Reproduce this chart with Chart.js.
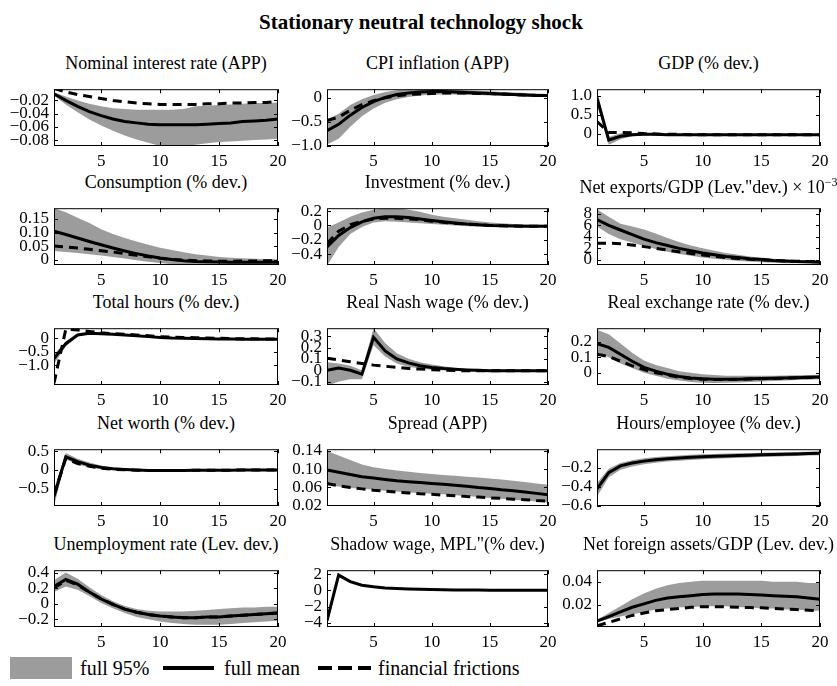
<!DOCTYPE html>
<html>
<head>
<meta charset="utf-8">
<script src="https://cdn.jsdelivr.net/npm/chart.js@4.4.0/dist/chart.umd.min.js"></script>
<style>
  body { margin: 0; background: #fff; width: 837px; height: 686px; position: relative; overflow: hidden;
         font-family: "Liberation Serif", "Times New Roman", serif; color: #000; }
  .main { position: absolute; top: 10px; left: 0; width: 842px; text-align: center; font-weight: bold; font-size: 21px; line-height: 24px; }
  .ptitle { position: absolute; white-space: nowrap; font-size: 18px; line-height: 20px; transform: translateX(-50%); }
  .ptitle sup { font-size: 12px; }
  canvas { position: absolute; }
  .leg { position: absolute; font-size: 20px; line-height: 22px; white-space: nowrap; }
</style>
</head>
<body>
<div class="main">Stationary neutral technology shock</div>

<div style="position:absolute;left:10px;top:657px;width:62px;height:22px;background:#9c9c9c"></div>
<div class="leg" style="left:80px;top:657px">full 95%</div>
<div style="position:absolute;left:163px;top:666px;width:51px;height:4px;background:#000"></div>
<div class="leg" style="left:224px;top:657px">full mean</div>
<svg style="position:absolute;left:318px;top:664px" width="53" height="8"><line x1="0" y1="4" x2="53" y2="4" stroke="#000" stroke-width="4" stroke-dasharray="14 6"/></svg>
<div class="leg" style="left:378px;top:657px">financial frictions</div>

<script>
// horizon (quarters)
const periods = [1,2,3,4,5,6,7,8,9,10,11,12,13,14,15,16,17,18,19,20];
const xTicks = [5, 10, 15, 20];

// Nominal interest rate (APP)
const nirMean = [-0.010,-0.020,-0.029,-0.037,-0.043,-0.048,-0.052,-0.054,-0.056,-0.057,-0.057,-0.057,-0.057,-0.056,-0.055,-0.054,-0.052,-0.051,-0.050,-0.048];
const nirFF   = [-0.002,-0.007,-0.011,-0.014,-0.017,-0.020,-0.022,-0.024,-0.025,-0.026,-0.026,-0.026,-0.026,-0.025,-0.025,-0.024,-0.024,-0.023,-0.023,-0.022];
const nirHi   = [-0.008,-0.014,-0.020,-0.025,-0.029,-0.032,-0.033,-0.034,-0.034,-0.034,-0.034,-0.033,-0.029,-0.028,-0.027,-0.026,-0.025,-0.024,-0.024,-0.023];
const nirLo   = [-0.013,-0.026,-0.038,-0.049,-0.058,-0.066,-0.073,-0.079,-0.084,-0.089,-0.090,-0.089,-0.087,-0.085,-0.083,-0.082,-0.081,-0.080,-0.079,-0.078];
const nirTicks = [-0.08,-0.06,-0.04,-0.02];

// CPI inflation (APP)
const cpiMean = [-0.68,-0.55,-0.36,-0.20,-0.08,0.01,0.07,0.10,0.12,0.13,0.13,0.12,0.11,0.10,0.09,0.08,0.07,0.06,0.05,0.05];
const cpiFF   = [-0.47,-0.40,-0.26,-0.14,-0.06,0.00,0.04,0.07,0.08,0.09,0.10,0.10,0.10,0.09,0.09,0.08,0.07,0.06,0.05,0.05];
const cpiHi   = [-0.45,-0.33,-0.15,-0.03,0.06,0.12,0.16,0.18,0.19,0.19,0.18,0.17,0.16,0.15,0.14,0.12,0.11,0.10,0.09,0.08];
const cpiLo   = [-0.97,-0.85,-0.60,-0.38,-0.22,-0.10,-0.03,0.02,0.05,0.07,0.07,0.07,0.06,0.06,0.05,0.04,0.04,0.03,0.02,0.02];
const cpiTicks = [-1.0,-0.5,0];

// GDP (% dev.)
const gdpMean = [0.94,-0.17,-0.07,-0.03,-0.02,-0.02,-0.03,-0.03,-0.03,-0.03,-0.03,-0.03,-0.03,-0.03,-0.03,-0.03,-0.03,-0.03,-0.03,-0.03];
const gdpFF   = [0.32,0.03,0.03,0.02,0.00,-0.01,-0.02,-0.02,-0.03,-0.03,-0.03,-0.03,-0.03,-0.03,-0.03,-0.03,-0.03,-0.03,-0.03,-0.03];
const gdpHi   = [1.15,-0.09,0.01,0.01,0.00,-0.01,-0.01,-0.01,-0.01,-0.01,-0.01,-0.01,-0.01,-0.01,-0.01,-0.01,-0.01,-0.01,-0.01,-0.01];
const gdpLo   = [0.80,-0.30,-0.15,-0.07,-0.05,-0.05,-0.05,-0.05,-0.05,-0.05,-0.05,-0.05,-0.05,-0.05,-0.05,-0.05,-0.05,-0.05,-0.05,-0.05];
const gdpTicks = [0,0.5,1.0];

// Consumption (% dev.)
const conMean = [0.105,0.093,0.080,0.067,0.055,0.043,0.032,0.022,0.013,0.006,0.000,-0.004,-0.007,-0.008,-0.009,-0.010,-0.010,-0.010,-0.010,-0.010];
const conFF   = [0.050,0.047,0.043,0.038,0.033,0.028,0.022,0.016,0.010,0.005,0.001,-0.002,-0.004,-0.005,-0.006,-0.006,-0.005,-0.005,-0.004,-0.004];
const conHi   = [0.190,0.175,0.155,0.135,0.112,0.095,0.080,0.067,0.055,0.044,0.035,0.027,0.020,0.015,0.010,0.007,0.005,0.003,0.002,0.001];
const conLo   = [0.032,0.028,0.024,0.020,0.015,0.010,0.004,-0.002,-0.008,-0.013,-0.017,-0.020,-0.022,-0.023,-0.023,-0.023,-0.022,-0.022,-0.021,-0.021];
const conTicks = [0,0.05,0.10,0.15];

// Investment (% dev.)
const invMean = [-0.30,-0.14,-0.03,0.05,0.10,0.12,0.12,0.11,0.09,0.07,0.05,0.035,0.02,0.01,0.00,-0.005,-0.008,-0.01,-0.01,-0.01];
const invFF   = [-0.25,-0.08,0.01,0.06,0.09,0.10,0.10,0.09,0.08,0.06,0.045,0.03,0.02,0.01,0.00,-0.005,-0.008,-0.01,-0.01,-0.01];
const invHi   = [-0.03,0.04,0.12,0.18,0.22,0.24,0.24,0.22,0.19,0.15,0.12,0.10,0.08,0.06,0.04,0.03,0.02,0.015,0.01,0.01];
const invLo   = [-0.56,-0.30,-0.12,-0.02,0.04,0.06,0.05,0.04,0.03,0.02,0.01,0.00,-0.01,-0.015,-0.02,-0.02,-0.02,-0.02,-0.02,-0.02];
const invTicks = [-0.4,-0.2,0,0.2];

// Net exports/GDP (Lev. dev.) x 10^-3
const nxMean = [7.0,6.0,5.2,4.4,3.6,3.0,2.5,2.0,1.6,1.2,0.9,0.6,0.4,0.2,0.05,-0.1,-0.2,-0.3,-0.35,-0.4];
const nxFF   = [2.9,2.9,2.8,2.6,2.3,2.0,1.7,1.4,1.1,0.85,0.6,0.4,0.25,0.1,0.0,-0.1,-0.2,-0.25,-0.3,-0.3];
const nxHi   = [8.8,7.5,6.3,5.8,5.3,4.6,3.8,3.1,2.5,2.0,1.6,1.2,0.9,0.6,0.4,0.2,0.05,-0.05,-0.1,-0.15];
const nxLo   = [5.8,4.5,3.6,3.0,2.4,1.9,1.4,1.0,0.7,0.4,0.2,0.0,-0.2,-0.3,-0.4,-0.5,-0.6,-0.6,-0.65,-0.7];
const nxTicks = [0,2,4,6,8];

// Total hours (% dev.)
const hrsMean = [-0.75,-0.20,0.12,0.18,0.17,0.15,0.12,0.09,0.06,0.03,0.01,0.00,-0.01,-0.02,-0.03,-0.03,-0.04,-0.04,-0.04,-0.04];
const hrsFF   = [-1.65,0.33,0.30,0.25,0.20,0.17,0.15,0.12,0.09,0.06,0.04,0.03,0.02,0.01,0.00,-0.01,-0.02,-0.02,-0.03,-0.03];
const hrsHi   = [-0.60,-0.12,0.17,0.22,0.20,0.18,0.15,0.11,0.08,0.05,0.03,0.02,0.01,0.00,-0.01,-0.01,-0.02,-0.02,-0.02,-0.02];
const hrsLo   = [-0.95,-0.30,0.07,0.14,0.14,0.12,0.09,0.07,0.04,0.01,-0.01,-0.02,-0.03,-0.04,-0.05,-0.05,-0.06,-0.06,-0.06,-0.06];
const hrsTicks = [-1.0,-0.5,0];

// Real Nash wage (% dev.)
const nwgMean = [0.00,0.02,0.00,-0.035,0.29,0.17,0.10,0.065,0.04,0.025,0.015,0.008,0.003,0.00,-0.005,-0.005,-0.005,-0.005,-0.005,-0.005];
const nwgFF   = [0.105,0.09,0.075,0.06,0.045,0.035,0.025,0.015,0.01,0.005,0.00,-0.003,-0.005,-0.005,-0.005,-0.005,-0.005,-0.005,-0.005,-0.005];
const nwgHi   = [0.07,0.06,0.04,0.00,0.37,0.24,0.15,0.10,0.07,0.05,0.035,0.02,0.012,0.008,0.005,0.005,0.005,0.005,0.005,0.005];
const nwgLo   = [-0.14,-0.10,-0.08,-0.08,0.22,0.12,0.06,0.03,0.015,0.005,0.00,-0.005,-0.01,-0.012,-0.015,-0.015,-0.015,-0.015,-0.015,-0.015];
const nwgTicks = [-0.1,0,0.1,0.2,0.3];

// Real exchange rate (% dev.)
const rerMean = [0.19,0.165,0.12,0.075,0.035,0.01,-0.01,-0.025,-0.035,-0.04,-0.043,-0.043,-0.042,-0.04,-0.038,-0.036,-0.034,-0.032,-0.03,-0.028];
const rerFF   = [0.12,0.105,0.075,0.045,0.02,0.00,-0.015,-0.03,-0.038,-0.042,-0.044,-0.044,-0.043,-0.041,-0.039,-0.037,-0.035,-0.033,-0.031,-0.03];
const rerHi   = [0.28,0.25,0.19,0.13,0.08,0.05,0.03,0.01,0.00,-0.01,-0.015,-0.02,-0.02,-0.02,-0.02,-0.02,-0.018,-0.016,-0.015,-0.013];
const rerLo   = [0.13,0.10,0.06,0.03,0.00,-0.02,-0.04,-0.05,-0.06,-0.065,-0.067,-0.066,-0.064,-0.06,-0.057,-0.054,-0.051,-0.048,-0.045,-0.043];
const rerTicks = [0,0.1,0.2];

// Net worth (% dev.)
const nwMean = [-0.70,0.35,0.22,0.13,0.07,0.035,0.015,0.00,-0.01,-0.012,-0.012,-0.01,-0.008,-0.006,-0.004,-0.003,-0.002,-0.001,0.00,0.00];
const nwFF   = [-0.65,0.30,0.17,0.10,0.05,0.02,0.005,-0.005,-0.01,-0.012,-0.012,-0.01,-0.008,-0.006,-0.004,-0.003,-0.002,-0.001,0.00,0.00];
const nwHi   = [-0.50,0.45,0.30,0.20,0.12,0.07,0.04,0.02,0.01,0.005,0.00,0.00,0.00,0.00,0.00,0.00,0.00,0.00,0.00,0.00];
const nwLo   = [-0.95,0.28,0.15,0.07,0.02,0.00,-0.01,-0.02,-0.025,-0.025,-0.025,-0.022,-0.02,-0.016,-0.012,-0.01,-0.008,-0.006,-0.005,-0.004];
const nwTicks = [-0.5,0,0.5];

// Spread (APP)
const sprMean = [0.098,0.093,0.088,0.083,0.080,0.077,0.074,0.072,0.070,0.068,0.066,0.064,0.062,0.059,0.057,0.054,0.052,0.049,0.046,0.043];
const sprFF   = [0.068,0.063,0.059,0.056,0.053,0.051,0.049,0.047,0.045,0.044,0.042,0.041,0.039,0.038,0.036,0.035,0.033,0.032,0.030,0.029];
const sprHi   = [0.140,0.130,0.120,0.110,0.104,0.100,0.097,0.094,0.091,0.089,0.087,0.085,0.083,0.081,0.079,0.077,0.074,0.071,0.068,0.065];
const sprLo   = [0.064,0.061,0.058,0.056,0.054,0.052,0.050,0.048,0.047,0.045,0.044,0.042,0.040,0.038,0.036,0.034,0.032,0.030,0.028,0.026];
const sprTicks = [0.02,0.06,0.10,0.14];

// Hours/employee (% dev.)
const hpeMean = [-0.42,-0.25,-0.18,-0.15,-0.13,-0.115,-0.105,-0.097,-0.09,-0.085,-0.08,-0.076,-0.072,-0.068,-0.064,-0.06,-0.057,-0.054,-0.051,-0.048];
const hpeHi   = [-0.36,-0.21,-0.15,-0.12,-0.10,-0.088,-0.078,-0.07,-0.064,-0.059,-0.055,-0.051,-0.048,-0.045,-0.042,-0.039,-0.036,-0.034,-0.032,-0.03];
const hpeLo   = [-0.50,-0.30,-0.22,-0.185,-0.163,-0.146,-0.134,-0.125,-0.117,-0.111,-0.106,-0.10,-0.096,-0.091,-0.087,-0.083,-0.079,-0.075,-0.071,-0.068];
const hpeTicks = [-0.6,-0.4,-0.2];

// Unemployment rate (Lev. dev.)
const unMean = [0.22,0.31,0.25,0.15,0.06,-0.01,-0.07,-0.11,-0.14,-0.16,-0.17,-0.18,-0.18,-0.17,-0.17,-0.16,-0.15,-0.14,-0.13,-0.12];
const unFF   = [0.20,0.30,0.24,0.15,0.06,-0.01,-0.07,-0.11,-0.14,-0.16,-0.17,-0.18,-0.18,-0.17,-0.17,-0.16,-0.15,-0.14,-0.13,-0.12];
const unHi   = [0.30,0.40,0.32,0.21,0.11,0.03,-0.03,-0.07,-0.09,-0.10,-0.10,-0.10,-0.09,-0.08,-0.07,-0.06,-0.05,-0.05,-0.04,-0.04];
const unLo   = [0.15,0.22,0.18,0.10,0.01,-0.06,-0.12,-0.17,-0.20,-0.23,-0.25,-0.26,-0.27,-0.27,-0.27,-0.26,-0.25,-0.24,-0.23,-0.22];
const unTicks = [-0.2,0,0.2,0.4];

// Shadow wage, MPL (% dev.)
const swMean = [-3.7,1.9,1.1,0.65,0.45,0.32,0.24,0.18,0.14,0.11,0.09,0.07,0.06,0.05,0.04,0.04,0.03,0.03,0.03,0.03];
const swHi   = [-3.3,2.1,1.2,0.72,0.5,0.36,0.27,0.2,0.16,0.13,0.1,0.08,0.07,0.06,0.05,0.05,0.04,0.04,0.04,0.04];
const swLo   = [-4.4,1.7,0.98,0.58,0.4,0.28,0.21,0.16,0.12,0.09,0.08,0.06,0.05,0.04,0.03,0.03,0.02,0.02,0.02,0.02];
const swTicks = [-4,-2,0,2];

// Net foreign assets/GDP (Lev. dev.)
const nfaMean = [0.006,0.010,0.014,0.018,0.021,0.024,0.026,0.027,0.028,0.029,0.0295,0.0295,0.0295,0.029,0.0285,0.028,0.0275,0.027,0.026,0.025];
const nfaFF   = [0.002,0.005,0.008,0.011,0.013,0.015,0.016,0.017,0.018,0.0185,0.0185,0.0185,0.018,0.0178,0.0175,0.017,0.0165,0.016,0.0155,0.015];
const nfaHi   = [0.007,0.013,0.019,0.025,0.030,0.034,0.037,0.039,0.040,0.041,0.041,0.041,0.041,0.041,0.041,0.040,0.040,0.040,0.039,0.039];
const nfaLo   = [0.005,0.008,0.010,0.012,0.014,0.016,0.017,0.018,0.018,0.019,0.019,0.019,0.018,0.018,0.017,0.017,0.016,0.016,0.015,0.015];
const nfaTicks = [0.02,0.04];

// layout of the 5x3 grid (plot-area pixels)
const rowTops = [84, 203, 323, 444, 565];
const colLefts = [54, 327, 597];
const colWidths = [224, 221, 223];
const plotH = 62;
const YW = 54, XH = 26, TP = 10, RP = 14;

const panels = [
  { title: 'Nominal interest rate (APP)', r: 0, c: 0, min: -0.089, max: -0.003, ticks: nirTicks, dec: 2, mean: nirMean, ff: nirFF, hi: nirHi, lo: nirLo },
  { title: 'CPI inflation (APP)', r: 0, c: 1, min: -1.0, max: 0.18, ticks: cpiTicks, dec: 1, mean: cpiMean, ff: cpiFF, hi: cpiHi, lo: cpiLo },
  { title: 'GDP (% dev.)', r: 0, c: 2, min: -0.33, max: 1.18, ticks: gdpTicks, dec: 1, mean: gdpMean, ff: gdpFF, hi: gdpHi, lo: gdpLo },
  { title: 'Consumption (% dev.)', r: 1, c: 0, min: -0.02, max: 0.19, ticks: conTicks, dec: 2, mean: conMean, ff: conFF, hi: conHi, lo: conLo },
  { title: 'Investment (% dev.)', r: 1, c: 1, min: -0.55, max: 0.24, ticks: invTicks, dec: 1, mean: invMean, ff: invFF, hi: invHi, lo: invLo },
  { title: 'Net exports/GDP (Lev."dev.) × 10<sup>\u22123</sup>', r: 1, c: 2, min: -0.9, max: 9.0, ticks: nxTicks, dec: 0, mean: nxMean, ff: nxFF, hi: nxHi, lo: nxLo },
  { title: 'Total hours (% dev.)', r: 2, c: 0, min: -1.72, max: 0.37, ticks: hrsTicks, dec: 1, mean: hrsMean, ff: hrsFF, hi: hrsHi, lo: hrsLo },
  { title: 'Real Nash wage (% dev.)', r: 2, c: 1, min: -0.13, max: 0.37, ticks: nwgTicks, dec: 1, mean: nwgMean, ff: nwgFF, hi: nwgHi, lo: nwgLo },
  { title: 'Real exchange rate (% dev.)', r: 2, c: 2, min: -0.08, max: 0.29, ticks: rerTicks, dec: 1, mean: rerMean, ff: rerFF, hi: rerHi, lo: rerLo },
  { title: 'Net worth (% dev.)', r: 3, c: 0, min: -0.95, max: 0.55, ticks: nwTicks, dec: 1, mean: nwMean, ff: nwFF, hi: nwHi, lo: nwLo },
  { title: 'Spread (APP)', r: 3, c: 1, min: 0.018, max: 0.144, ticks: sprTicks, dec: 2, mean: sprMean, ff: sprFF, hi: sprHi, lo: sprLo },
  { title: 'Hours/employee (% dev.)', r: 3, c: 2, min: -0.6, max: -0.005, ticks: hpeTicks, dec: 1, mean: hpeMean, ff: null, hi: hpeHi, lo: hpeLo },
  { title: 'Unemployment rate (Lev. dev.)', r: 4, c: 0, min: -0.3, max: 0.43, ticks: unTicks, dec: 1, mean: unMean, ff: unFF, hi: unHi, lo: unLo },
  { title: 'Shadow wage, MPL"(% dev.)', r: 4, c: 1, min: -4.5, max: 2.5, ticks: swTicks, dec: 0, mean: swMean, ff: null, hi: swHi, lo: swLo },
  { title: 'Net foreign assets/GDP (Lev. dev.)', r: 4, c: 2, min: 0.001, max: 0.05, ticks: nfaTicks, dec: 2, mean: nfaMean, ff: nfaFF, hi: nfaHi, lo: nfaLo }
];

Chart.defaults.font.family = '"Liberation Serif", "Times New Roman", serif';
Chart.defaults.font.size = 17;
Chart.defaults.color = '#000';

function fmt(v, d) {
  if (Math.abs(v) < 1e-9) return '0';
  const s = Math.abs(v).toFixed(d);
  return v < 0 ? '\u2212' + s : s;
}

function pts(arr) {
  return periods.map((p, i) => ({ x: p, y: arr[i] }));
}

// box around the axes with inward tick marks, matlab style
const boxPlugin = {
  id: 'box',
  afterDraw(chart) {
    const { ctx, chartArea: a, scales: { x, y } } = chart;
    ctx.save();
    ctx.strokeStyle = '#000';
    ctx.lineWidth = 1;
    ctx.strokeRect(a.left + 0.5, a.top + 0.5, a.right - a.left - 1, a.bottom - a.top - 1);
    ctx.beginPath();
    x.ticks.forEach(t => {
      const px = Math.round(x.getPixelForValue(t.value)) + 0.5;
      ctx.moveTo(px, a.bottom); ctx.lineTo(px, a.bottom - 4);
      ctx.moveTo(px, a.top); ctx.lineTo(px, a.top + 4);
    });
    y.ticks.forEach(t => {
      const py = Math.round(y.getPixelForValue(t.value)) + 0.5;
      ctx.moveTo(a.left, py); ctx.lineTo(a.left + 4, py);
      ctx.moveTo(a.right, py); ctx.lineTo(a.right - 4, py);
    });
    ctx.stroke();
    ctx.restore();
  }
};

const BAND = '#9c9c9c';

panels.forEach(p => {
  const plotLeft = colLefts[p.c], plotTop = rowTops[p.r], plotW = colWidths[p.c];

  const t = document.createElement('div');
  t.className = 'ptitle';
  t.innerHTML = p.title;
  t.style.left = (plotLeft + plotW / 2) + 'px';
  t.style.top = (plotTop - 31) + 'px';
  document.body.appendChild(t);

  const cv = document.createElement('canvas');
  cv.width = YW + plotW + RP;
  cv.height = TP + plotH + XH;
  cv.style.left = (plotLeft - YW) + 'px';
  cv.style.top = (plotTop - TP) + 'px';
  document.body.appendChild(cv);

  const datasets = [];
  if (p.ff) {
    datasets.push({ data: pts(p.ff), borderColor: '#000', borderWidth: 3, borderDash: [9, 6], pointRadius: 0, fill: false, order: 0 });
  }
  datasets.push({ data: pts(p.mean), borderColor: '#000', borderWidth: 3, pointRadius: 0, fill: false, order: 1 });
  datasets.push({ data: pts(p.lo), borderWidth: 0, borderColor: 'rgba(0,0,0,0)', pointRadius: 0, fill: false, order: 3 });
  datasets.push({ data: pts(p.hi), borderWidth: 0, borderColor: 'rgba(0,0,0,0)', pointRadius: 0, fill: '-1', backgroundColor: BAND, order: 2 });

  new Chart(cv, {
    type: 'line',
    data: { datasets },
    options: {
      responsive: false,
      animation: false,
      events: [],
      layout: { padding: { top: TP, right: RP, left: 0, bottom: 0 } },
      plugins: { legend: { display: false }, tooltip: { enabled: false } },
      scales: {
        x: {
          type: 'linear', min: 1, max: 20,
          grid: { display: false, drawTicks: false },
          border: { display: false },
          afterBuildTicks: s => { s.ticks = xTicks.map(v => ({ value: v })); },
          afterFit: s => { s.height = XH; },
          ticks: { autoSkip: false, maxRotation: 0, padding: 5, callback: v => String(v) }
        },
        y: {
          min: p.min, max: p.max,
          grid: { display: false, drawTicks: false },
          border: { display: false },
          afterBuildTicks: s => { s.ticks = p.ticks.map(v => ({ value: v })); },
          afterFit: s => { s.width = YW; },
          ticks: { autoSkip: false, padding: 5, callback: v => fmt(v, p.dec) }
        }
      }
    },
    plugins: [boxPlugin]
  });
});
</script>
</body>
</html>
